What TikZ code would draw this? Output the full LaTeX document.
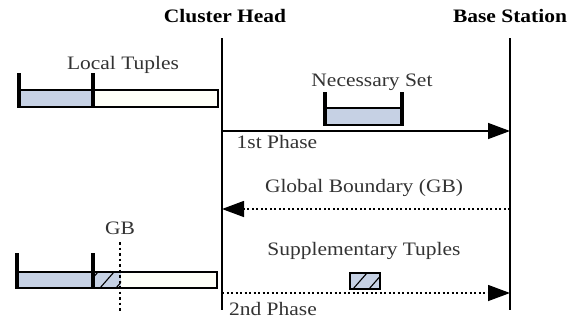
\documentclass[tikz,border=0pt]{standalone}
\usepackage{fontspec}
\setmainfont[FakeStretch=1.13]{Liberation Serif}
\usetikzlibrary{arrows.meta}
\definecolor{barblue}{HTML}{C6D1E4}
\definecolor{barcream}{HTML}{FEFFF8}
\begin{document}
\begin{tikzpicture}[x=1pt,y=-1pt,
  lbl/.style={inner sep=0pt,text=black!80,font=\fontsize{19}{21}\selectfont},
  hdr/.style={inner sep=0pt,font=\fontsize{19}{21}\selectfont\bfseries},
  life/.style={line width=2.4pt},
  tickmark/.style={line width=4pt},
  msg/.style={line width=1.4pt,-{Triangle[length=22pt,width=16pt]}},
  dotmsg/.style={msg,dash pattern=on 2pt off 2.5pt},
  barbox/.style={draw,line width=1.3pt},
  hatchline/.style={line width=1.1pt}]
\useasboundingbox (0,0) rectangle (570,322);
% lifelines
\coordinate (chT) at (222,38); \coordinate (chB) at (222,310);
\coordinate (bsT) at (510,38); \coordinate (bsB) at (510,310);
\draw[life] (chT) -- (chB);
\draw[life] (bsT) -- (bsB);
\node[hdr] (ch) at (225,16) {Cluster Head};
\node[hdr] (bs) at (510,16) {Base Station};
% top local bar
\node[lbl] (lt) at (123,65) {Local Tuples};
\draw[barbox,fill=barcream] (19,90) rectangle (218,107);
\draw[barbox,fill=barblue] (19,90) rectangle (93,107);
\draw[tickmark] (19,73) -- (19,108);
\draw[tickmark] (93,73) -- (93,108);
% necessary set
\node[lbl] (ns) at (372,82) {Necessary Set};
\draw[barbox,fill=barblue] (325,108) rectangle (402,125);
\draw[tickmark] (325,92) -- (325,126);
\draw[tickmark] (402,92) -- (402,126);
% 1st phase
\coordinate (a1s) at (222,131); \coordinate (a1e) at (510,131);
\draw[msg] (a1s) -- (a1e);
\node[lbl] (p1) at (277,142) {1st Phase};
% global boundary
\node[lbl] (gbt) at (364,188) {Global Boundary (GB)};
\coordinate (a2s) at (510,209); \coordinate (a2e) at (222,209);
\draw[dotmsg] (a2s) -- (a2e);
% bottom local bar
\draw[barbox,fill=barcream] (17,272) rectangle (217,288);
\draw[barbox,fill=barblue] (17,272) rectangle (93,288);
\fill[barblue] (93,272) rectangle (121,288);
\begin{scope}
  \clip (93,272) rectangle (121,288);
  \foreach \x in {84,100,116} \draw[hatchline] (\x,288) -- (\x+14,272);
\end{scope}
\draw[barbox] (17,272) rectangle (217,288);
\draw[tickmark] (17,253) -- (17,289);
\draw[tickmark] (93,253) -- (93,289);
\node[lbl] (gb) at (120,228) {GB};
\coordinate (gbT) at (120,242); \coordinate (gbB) at (120,312);
\draw[line width=2pt,dash pattern=on 2.5pt off 3pt] (gbT) -- (gbB);
% supplementary
\node[lbl] (st) at (364,251) {Supplementary Tuples};
\fill[barblue] (350,273) rectangle (380,289);
\begin{scope}
  \clip (350,273) rectangle (380,289);
  \foreach \x in {353,369} \draw[hatchline] (\x,289) -- (\x+14,273);
\end{scope}
\draw[line width=1.2pt] (350,273) rectangle (380,289);
% 2nd phase
\coordinate (a3s) at (222,293); \coordinate (a3e) at (510,293);
\draw[dotmsg] (a3s) -- (a3e);
\node[lbl] (p2) at (273,309) {2nd Phase};
\end{tikzpicture}
\end{document}
